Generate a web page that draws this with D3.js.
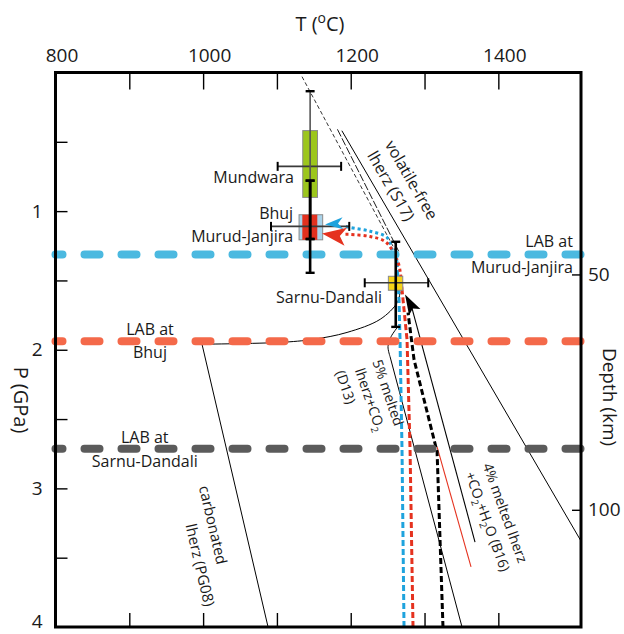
<!DOCTYPE html>
<html><head><meta charset="utf-8">
<script src="https://cdn.jsdelivr.net/npm/d3@7"></script>
<style>body{margin:0;background:#fff}svg text{font-family:"Open Sans",sans-serif;fill:#1a1a1a}</style>
</head><body><svg id="c" width="624" height="634"></svg>
<script>
// ---------- data ----------
const tempTicks = [900,1000,1100,1200,1300,1400];
const tempLabels = [800,1000,1200,1400];
const pressTicks = [0.5,1,1.5,2,2.5,3,3.5];
const pressLabels = [1,2,3,4];
const depthTicks = [50,100];

// LAB depths (GPa)
const labNames = ["Murud-Janjira","Bhuj","Sarnu-Dandali"];
const labP = [1.313, 1.939, 2.715];

// solidi (T °C, P GPa)
const s17Solid = [[1188,0.42],[1512,3.38]];
const s17DashFine = [[1134,0.03],[1262,1.30]];
const s17DashLong = [[1182,0.41],[1265,1.29]];
const pg08Ledge = [[1267,1.58],[1263,1.66],[1240,1.78],[1195,1.875],[1149,1.925],[1104,1.947],[998.5,1.96]];
const pg08Line = [[998.5,1.96],[1088,4.0]];
const d13Curve = [[1264,1.833],[1254.6,1.906],[1250.5,1.978],[1253.3,2.05]];
const d13Line = [[1253.3,2.05],[1350.8,4.0]];
const b16Black = [[1281.7,1.674],[1368.4,3.387]];
const b16Red = [[1317,2.70],[1363,3.567]];

// melting / ascent paths
const blueDashed = [[1272.2,4.0],[1269.5,2.722],[1266.8,1.927],[1265.4,1.638],[1262.7,1.363]];
const blueDotted = [[1262.7,1.363],[1256,1.277],[1249.2,1.19],[1226.2,1.145],[1199,1.118],[1189.6,1.107]];
const redDashed = [[1284.4,4.0],[1280.4,2.722],[1276.3,1.927],[1269.5,1.566]];
const redDotted = [[1269.5,1.566],[1265.4,1.392],[1257.3,1.291],[1246.5,1.219],[1226.2,1.183],[1199,1.168],[1189.6,1.168]];
const blackDashed = [[1325,4.0],[1317,2.736],[1285.8,2.072],[1277.6,1.732]];
const arrowNames = ["blue","red","black"];
const arrowT = [1165.2,1161.1,1273.6];
const arrowP = [1.096,1.161,1.602];

// xenolith samples
const sampleNames = ["Mundwara","Murud-Janjira","Bhuj","Sarnu-Dandali"];
const sampleT0 = [1135,1130,1134.4,1251];
const sampleT1 = [1155,1162,1154.7,1270.5];
const sampleP0 = [0.419,1.026,1.026,1.47];
const sampleP1 = [0.901,1.207,1.207,1.571];
// error bars
const vBarT = [1145,1145,1145,1261];
const vBarP0 = [0.135,0.78,0.78,1.221];
const vBarP1 = [1.20,1.202,1.445,1.835];
const vBarKind = ["thin","thick","thick","thick"];
const hBarP = [0.677,1.11,1.517];
const hBarT0 = [1101,1092,1219];
const hBarT1 = [1187,1198,1305];

// text annotations
const sampleLabelText = ["Mundwara","Bhuj","Murud-Janjira","Sarnu-Dandali"];
const sampleLabelT = [1123,1122,1122,1170.6];
const sampleLabelP = [0.754,1.02,1.185,1.622];
const labLabelText = ["LAB at","Murud-Janjira","LAB at","Bhuj","LAB at","Sarnu-Dandali"];
const labLabelT = [1501,1501,928,928,921,921];
const labLabelP = [1.215,1.405,1.855,2.02,2.63,2.808];
const curveLabelSegs = [
  [["volatile-free"]],
  [["lherz (S17)"]],
  [["5% melted"]],
  [["lherz+CO"],["2",1]],
  [["(D13)"]],
  [["4% melted lherz"]],
  [["+CO"],["2",1],["+H"],["2",1],["O (B16)"]],
  [["carbonated"]],
  [["lherz (PG08)"]]
];
const curveLabelT = [1282.4,1254.6,1250.5,1226.2,1193,1409.1,1385.4,1013.4,995.8];
const curveLabelP = [0.776,0.819,2.31,2.36,2.27,3.177,3.24,3.264,3.553];

// ---------- styles ----------
const labColor = {"Murud-Janjira":"#4bb9e0","Bhuj":"#f4694a","Sarnu-Dandali":"#5b5b5b"};
const sampleFill = {"Mundwara":"#9cc61c","Murud-Janjira":"#a9d3ea","Bhuj":"#e2311f","Sarnu-Dandali":"#f7d417"};
const pathBlue = "#1fa3dd", pathRed = "#e5321f";
const arrowStyle = {
  blue:{color:pathBlue,angle:176,len:18,half:6,notch:5},
  red:{color:pathRed,angle:188,len:24,half:9,notch:6},
  black:{color:"#000",angle:241,len:20,half:6.5,notch:4}
};
const curveLabelStyle = [
  {a:60,s:16},{a:60,s:16},{a:71,s:14},{a:71,s:14},{a:71,s:14},{a:70,s:14},{a:70,s:14},{a:77,s:15},{a:77,s:15}
];

// ---------- scales ----------
const x = d3.scaleLinear().domain([800,1512]).range([55.5,581]);
const y = d3.scaleLinear().domain([0,4]).range([72.5,627]);
const yDepth = d3.scaleLinear().domain([7.1,124.9]).range([72.5,627]);
const svg = d3.select("#c");
const line = d3.line().x(d=>x(d[0])).y(d=>y(d[1]));
const smooth = d3.line().x(d=>x(d[0])).y(d=>y(d[1])).curve(d3.curveCatmullRom.alpha(0.5));

svg.append("clipPath").attr("id","clip").append("rect")
  .attr("x",x(800)).attr("y",y(0)).attr("width",x(1512)-x(800)).attr("height",y(4)-y(0));
const plot = svg.append("g").attr("clip-path","url(#clip)");

function richText(sel, segs, size){
  let shift=0;
  segs.forEach(([t,sub])=>{
    const ts = sel.append("tspan").text(t);
    let target = sub===1 ? size*0.28 : (sub===-1 ? -size*0.42 : 0);
    if(sub) ts.attr("font-size",size*0.7);
    if(target!==shift){ ts.attr("dy",target-shift); shift=target; }
  });
}

// LAB lines
svg.append("g").selectAll("line").data(labNames).join("line")
  .attr("x1",x(800)).attr("x2",x(1512))
  .attr("y1",(d,i)=>y(labP[i])).attr("y2",(d,i)=>y(labP[i]))
  .attr("stroke",d=>labColor[d]).attr("stroke-width",8).attr("stroke-linecap","round")
  .attr("stroke-dasharray","15 22").attr("stroke-dashoffset",8);

// solidi
const thin = [
  {d:s17Solid,f:line,dash:null,c:"#000",w:1},
  {d:s17DashFine,f:line,dash:"4 2.5",c:"#000",w:0.8},
  {d:s17DashLong,f:line,dash:"8 2",c:"#000",w:0.9},
  {d:pg08Ledge,f:smooth,dash:null,c:"#000",w:1},
  {d:pg08Line,f:line,dash:null,c:"#000",w:1},
  {d:d13Curve,f:smooth,dash:null,c:"#000",w:1},
  {d:d13Line,f:line,dash:null,c:"#000",w:1},
  {d:b16Black,f:line,dash:null,c:"#000",w:1.1},
  {d:b16Red,f:line,dash:null,c:"#e5321f",w:1.1}
];
thin.forEach(o=>{
  plot.append("path").attr("d",o.f(o.d)).attr("fill","none").attr("stroke",o.c)
    .attr("stroke-width",o.w).attr("stroke-dasharray",o.dash);
});

// sample boxes
svg.append("g").selectAll("rect").data(sampleNames).join("rect")
  .attr("x",(d,i)=>x(sampleT0[i])).attr("width",(d,i)=>x(sampleT1[i])-x(sampleT0[i]))
  .attr("y",(d,i)=>y(sampleP0[i])).attr("height",(d,i)=>y(sampleP1[i])-y(sampleP0[i]))
  .attr("fill",d=>sampleFill[d]).attr("stroke",(d,i)=>i===2?"none":"#8a8a8a").attr("stroke-width",1);

// horizontal error bars
const gh = svg.append("g").attr("stroke","#3a3a3a").attr("stroke-width",1.6);
hBarP.forEach((p,i)=>{
  gh.append("line").attr("x1",x(hBarT0[i])).attr("x2",x(hBarT1[i])).attr("y1",y(p)).attr("y2",y(p));
  [hBarT0[i],hBarT1[i]].forEach(t=>gh.append("line").attr("x1",x(t)).attr("x2",x(t)).attr("y1",y(p)-4.5).attr("y2",y(p)+4.5).attr("stroke","#000").attr("stroke-width",2));
});
// vertical error bars
const gv = svg.append("g");
vBarT.forEach((t,i)=>{
  const thick = vBarKind[i]==="thick";
  gv.append("line").attr("x1",x(t)).attr("x2",x(t)).attr("y1",y(vBarP0[i])).attr("y2",y(vBarP1[i]))
    .attr("stroke",thick?"#000":"#555").attr("stroke-width",thick?2.6:1.6);
  [vBarP0[i],vBarP1[i]].forEach(p=>gv.append("line").attr("x1",x(t)-4.5).attr("x2",x(t)+4.5).attr("y1",y(p)).attr("y2",y(p)).attr("stroke","#000").attr("stroke-width",2.4));
});

// melting paths
const paths = [
  {d:blueDashed,f:line,c:pathBlue,dash:"6 3"},
  {d:blueDotted,f:smooth,c:pathBlue,dash:"3 3"},
  {d:redDashed,f:line,c:pathRed,dash:"6 3"},
  {d:redDotted,f:smooth,c:pathRed,dash:"3 3"},
  {d:blackDashed,f:line,c:"#000",dash:"6 3"}
];
paths.forEach(o=>{
  plot.append("path").attr("d",o.f(o.d)).attr("fill","none").attr("stroke",o.c)
    .attr("stroke-width",3).attr("stroke-dasharray",o.dash);
});
arrowNames.forEach((n,i)=>{
  const s = arrowStyle[n];
  svg.append("path")
    .attr("d",`M0,0L${-s.len},${-s.half}L${-(s.len-s.notch)},0L${-s.len},${s.half}Z`)
    .attr("transform",`translate(${x(arrowT[i])},${y(arrowP[i])}) rotate(${s.angle})`)
    .attr("fill",s.color);
});

// axes
function styleAxis(g){ g.select(".domain").remove(); g.selectAll("line").attr("stroke","#000").attr("stroke-width",1.4); g.attr("font-family",null).attr("font-size",19); }
svg.append("g").attr("transform",`translate(0,${y(0)})`)
  .call(d3.axisTop(x).tickValues(tempTicks).tickSize(-17).tickFormat("")).call(styleAxis);
svg.append("g").attr("transform",`translate(0,${y(4)})`)
  .call(d3.axisBottom(x).tickValues(tempTicks).tickSize(-14).tickFormat("")).call(styleAxis);
svg.append("g").attr("transform",`translate(${x(800)},0)`)
  .call(d3.axisLeft(y).tickValues(pressTicks).tickSize(-12).tickFormat("")).call(styleAxis);
svg.append("g").attr("transform",`translate(${x(1512)},0)`)
  .call(d3.axisRight(yDepth).tickValues(depthTicks).tickSize(-9).tickFormat("")).call(styleAxis);
// tick labels
svg.append("g").attr("transform",`translate(6,${y(0)})`)
  .call(d3.axisTop(x).tickValues(tempLabels).tickSize(0).tickPadding(11).tickFormat(d3.format("d"))).call(styleAxis);
const gLeft = svg.append("g").attr("transform",`translate(${x(800)},0)`)
  .call(d3.axisLeft(y).tickValues(pressLabels).tickSize(0).tickPadding(13).tickFormat(d3.format("d"))).call(styleAxis);
gLeft.selectAll("text").filter(d=>d===4).attr("dy","0.03em");
svg.append("g").attr("transform",`translate(${x(1512)},0)`)
  .call(d3.axisRight(yDepth).tickValues(depthTicks).tickSize(0).tickPadding(7).tickFormat(d3.format("d"))).call(styleAxis);

// frame
svg.append("rect").attr("x",x(800)).attr("y",y(0)).attr("width",x(1512)-x(800)).attr("height",y(4)-y(0))
  .attr("fill","none").attr("stroke","#000").attr("stroke-width",3);

// axis titles
richText(svg.append("text").attr("x",320).attr("y",31).attr("text-anchor","middle").attr("font-size",20),
  [["T ("],["o",-1],["C)"]],20);
svg.append("text").attr("transform","translate(14,400) rotate(90)").attr("text-anchor","middle").attr("font-size",20).text("P (GPa)");
svg.append("text").attr("transform","translate(603,397) rotate(90)").attr("text-anchor","middle").attr("font-size",19).text("Depth (km)");

// sample labels
svg.append("g").selectAll("text").data(sampleLabelText).join("text")
  .attr("x",(d,i)=>x(sampleLabelT[i])).attr("y",(d,i)=>y(sampleLabelP[i])).attr("dy","0.35em")
  .attr("text-anchor",(d,i)=>i===3?"middle":"end").attr("font-size",16).text(d=>d);
// LAB labels
svg.append("g").selectAll("text").data(labLabelText).join("text")
  .attr("x",(d,i)=>x(labLabelT[i])).attr("y",(d,i)=>y(labLabelP[i])).attr("dy","0.35em")
  .attr("text-anchor",(d,i)=>i<2?"end":"middle").attr("font-size",16).text(d=>d);
// curve labels
curveLabelSegs.forEach((segs,i)=>{
  const st = curveLabelStyle[i];
  const t = svg.append("text").attr("transform",`translate(${x(curveLabelT[i])},${y(curveLabelP[i])}) rotate(${st.a})`)
    .attr("text-anchor","middle").attr("dy","0.35em").attr("font-size",st.s);
  richText(t,segs,st.s);
});
</script></body></html>
